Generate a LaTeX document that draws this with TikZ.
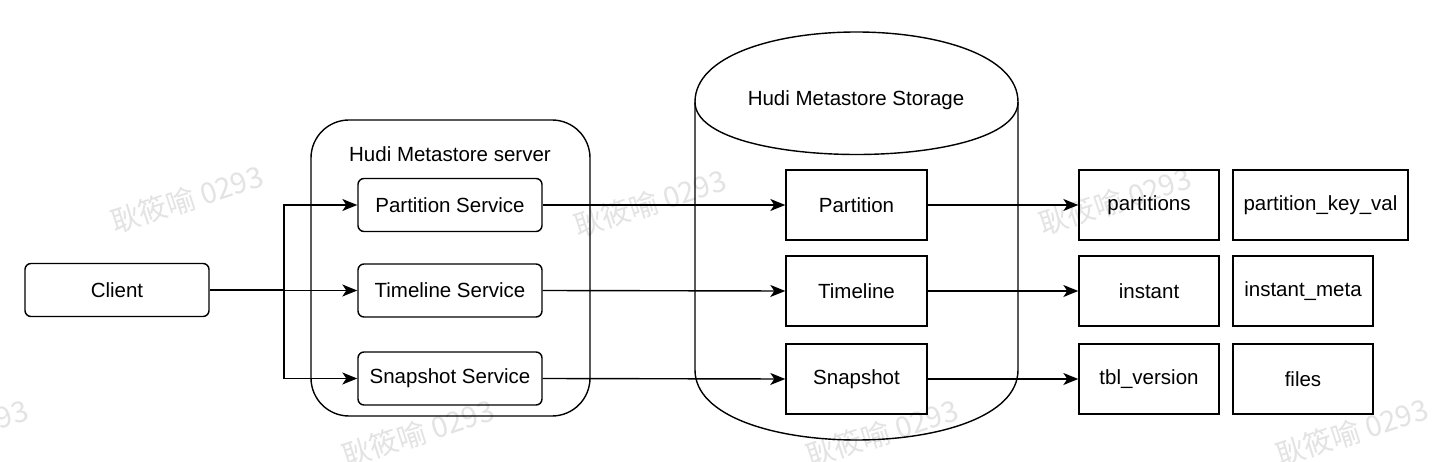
\documentclass[tikz,border=0pt]{standalone}
\usepackage{fontspec}
\setmainfont{Liberation Sans}
\newfontfamily\cjkfont{Noto Sans CJK SC}
\usetikzlibrary{arrows.meta}
\begin{document}
\begin{tikzpicture}[x=1pt,y=-1pt,
  lbl/.style={font=\fontsize{20.5}{24}\selectfont},
  ln/.style={line width=1.4pt},
  svc/.style={draw, ln, rounded corners=6pt, minimum width=184pt, minimum height=53pt, inner sep=0pt, lbl},
  tbl/.style={draw, ln, minimum height=70pt, inner sep=0pt, lbl},
  arr/.style={ln, -{Stealth[length=15pt,width=12pt,inset=4pt]}},
  wm/.style={font=\cjkfont\fontsize{29}{33}\selectfont, text=black!11, rotate=18, inner sep=0pt}
]
\useasboundingbox (0,0) rectangle (1440,462);
\fill[white] (0,0) rectangle (1440,462);
% watermarks
\begin{scope}
\clip (0,0) rectangle (1440,462);
\foreach \x/\y [count=\i] in {187/199, 650/203, 1115/201, -48/433, 418/433, 882/433, 1352/432}
  \node[wm] (wm\i) at (\x,\y) {耿筱喻 0293};
\end{scope}

% client
\node[svc] (client) at (117,290) {Client};

% server container
\node[draw, ln, rounded corners=38pt, minimum width=279pt, minimum height=296pt, inner sep=0pt] (server) at (450.5,268) {};
\node[lbl] (servertitle) at (450,154) {Hudi Metastore server};
\node[svc] (ps) at (450,205) {Partition Service};
\node[svc] (ts) at (450,290.5) {Timeline Service};
\node[svc] (ss) at (450,378.5) {Snapshot Service};

% storage cylinder
\draw[ln] (695,102) .. controls (695,8.67) and (1018,8.67) .. (1018,102)
  -- (1018,370) .. controls (1018,463.33) and (695,463.33) .. (695,370) -- cycle;
\draw[ln] (695,102) .. controls (695,172) and (1018,172) .. (1018,102);
\node[lbl] (storagetitle) at (856,100) {Hudi Metastore Storage};
\node[tbl, minimum width=141pt] (sp) at (856.5,205) {Partition};
\node[tbl, minimum width=141pt] (st) at (856.5,291) {Timeline};
\node[tbl, minimum width=141pt] (ssn) at (856.5,379) {Snapshot};

% tables
\node[tbl, minimum width=140pt] (t1) at (1149,205) {partitions};
\node[tbl, minimum width=175pt] (t2) at (1320.5,205) {partition\_key\_val};
\node[tbl, minimum width=140pt] (t3) at (1149,291) {instant};
\node[tbl, minimum width=140pt] (t4) at (1303,291) {instant\_meta};
\node[tbl, minimum width=140pt] (t5) at (1149,379) {tbl\_version};
\node[tbl, minimum width=140pt] (t6) at (1303,379) {files};

% connectors
\coordinate (j) at (284,290);
\draw[ln] (client.east) -- (j);
\draw[arr] (j) |- (ps.west);
\draw[arr] (j) |- (ts.west);
\draw[arr] (j) |- (ss.west);
\draw[arr] (ps.east) -- (sp.west);
\draw[arr] (ts.east) -- (st.west);
\draw[arr] (ss.east) -- (ssn.west);
\draw[arr] (sp.east) -- (t1.west);
\draw[arr] (st.east) -- (t3.west);
\draw[arr] (ssn.east) -- (t5.west);
\end{tikzpicture}
\end{document}
